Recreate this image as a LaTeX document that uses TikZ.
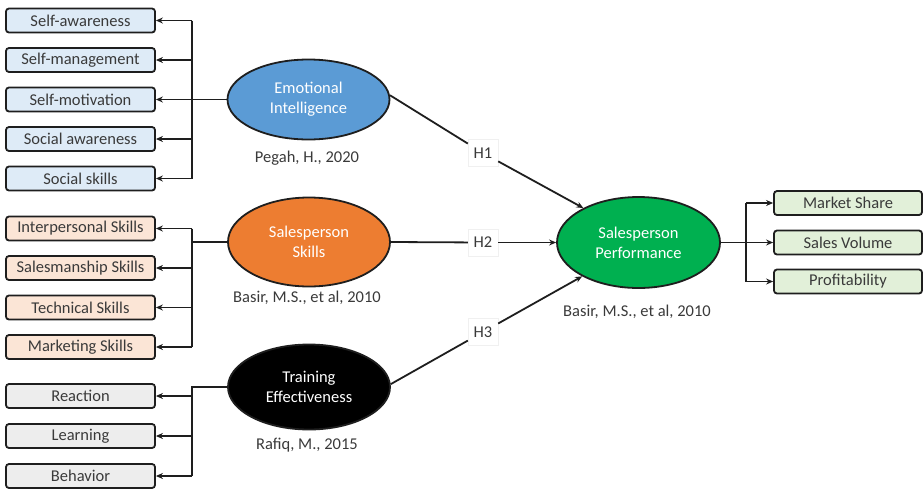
\documentclass[tikz,border=0pt]{standalone}
\usepackage{fontspec}
\setmainfont{Carlito}
\usetikzlibrary{shapes.geometric,arrows.meta}
\definecolor{eiblue}{HTML}{5B9BD5}
\definecolor{ssorange}{HTML}{ED7D31}
\definecolor{spgreen}{HTML}{00B050}
\definecolor{fblue}{HTML}{DEEBF7}
\definecolor{forange}{HTML}{FBE5D6}
\definecolor{fgray}{HTML}{EDEDED}
\definecolor{fgreen}{HTML}{E2F0D9}
\definecolor{edgec}{HTML}{1E1E1E}
\definecolor{txt}{HTML}{3A3A3A}
\begin{document}
\begin{tikzpicture}[x=1pt,y=-1pt,
  every node/.style={font=\fontsize{16.5}{20}\selectfont},
  itembox/.style={draw=edgec, line width=1.8pt, rounded corners=3pt, minimum height=24pt, text=txt, inner sep=0pt},
  leftbox/.style={itembox, minimum width=149pt},
  rightbox/.style={itembox, minimum width=148pt, fill=fgreen},
  construct/.style={ellipse, draw=edgec, line width=1.8pt, minimum width=162pt, text=white, align=center, inner sep=0pt},
  cite/.style={text=txt},
  hyp/.style={fill=white, draw=black!6, text=txt, minimum width=30pt, minimum height=27pt, inner sep=0pt},
  conn/.style={line width=1.8pt, draw=edgec},
  arr/.style={conn, -{Stealth[length=7pt,width=6pt]}}
]
\useasboundingbox (0,0) rectangle (924,488);

% Emotional Intelligence
\node[construct, fill=eiblue, minimum height=80pt] (ei) at (308.5,99.5) {Emotional\\Intelligence};
\node[cite] (eic) at (307,158) {Pegah, H., 2020};
\node[leftbox, fill=fblue] (a1) at (80.5,20.5) {Self-awareness};
\node[leftbox, fill=fblue] (a2) at (80.5,60) {Self-management};
\node[leftbox, fill=fblue] (a3) at (80.5,99.5) {Self-motivation};
\node[leftbox, fill=fblue] (a4) at (80.5,139) {Social awareness};
\node[leftbox, fill=fblue] (a5) at (80.5,178.5) {Social skills};
\coordinate (busA) at (192,0);
\draw[conn] (a1.east -| busA) -- (a5.east -| busA);
\draw[conn] (ei.west) -- (ei.west -| busA);
\foreach \n in {a1,a2,a3,a4,a5} \draw[arr] (\n.east -| busA) -- (\n.east);

% Salesperson Skills
\node[construct, fill=ssorange, minimum height=89pt] (ss) at (309,242) {Salesperson\\Skills};
\node[cite] (ssc) at (307,298) {Basir, M.S., et al, 2010};
\node[leftbox, fill=forange] (b1) at (80.5,228.5) {Interpersonal Skills};
\node[leftbox, fill=forange] (b2) at (80.5,268) {Salesmanship Skills};
\node[leftbox, fill=forange] (b3) at (80.5,307.5) {Technical Skills};
\node[leftbox, fill=forange] (b4) at (80.5,347) {Marketing Skills};
\coordinate (busB) at (192,0);
\draw[conn] (b1.east -| busB) -- (b4.east -| busB);
\draw[conn] (ss.west) -- (ss.west -| busB);
\foreach \n in {b1,b2,b3,b4} \draw[arr] (\n.east -| busB) -- (\n.east);

% Training Effectiveness
\node[construct, fill=black, minimum height=85pt] (te) at (309,387) {Training\\Effectiveness};
\node[cite] (tec) at (307,445) {Rafiq, M., 2015};
\node[leftbox, fill=fgray] (c1) at (80.5,396) {Reaction};
\node[leftbox, fill=fgray] (c2) at (80.5,436) {Learning};
\node[leftbox, fill=fgray] (c3) at (80.5,476) {Behavior};
\coordinate (busC) at (192,0);
\draw[conn] (te.west) -- (te.west -| busC) -- (c3.east -| busC);
\foreach \n in {c1,c2,c3} \draw[arr] (\n.east -| busC) -- (\n.east);

% Salesperson Performance
\node[construct, fill=spgreen, minimum width=163pt, minimum height=91pt] (sp) at (638.5,242.5) {Salesperson\\Performance};
\node[cite] (spc) at (637,312) {Basir, M.S., et al, 2010};
\node[rightbox] (d1) at (848,203) {Market Share};
\node[rightbox] (d2) at (848,242.5) {Sales Volume};
\node[rightbox] (d3) at (848,281.5) {Profitability};
\coordinate (busD) at (746,0);
\draw[conn] (d1.west -| busD) -- (d3.west -| busD);
\draw[conn] (sp.east) -- (sp.east -| busD);
\foreach \n in {d1,d2,d3} \draw[arr] (\n.west -| busD) -- (\n.west);

% Hypotheses
\node[hyp] (h1) at (483,153) {H1};
\node[hyp] (h2) at (483,242.5) {H2};
\node[hyp] (h3) at (483,332) {H3};
\draw[conn] (ei.3) -- (h1);
\draw[arr] (h1) -- (sp.148);
\draw[conn] (ss.east) -- (h2);
\draw[arr] (h2) -- (sp.west);
\draw[conn] (te.2) -- (h3);
\draw[arr] (h3) -- (sp.211);
\end{tikzpicture}
\end{document}
